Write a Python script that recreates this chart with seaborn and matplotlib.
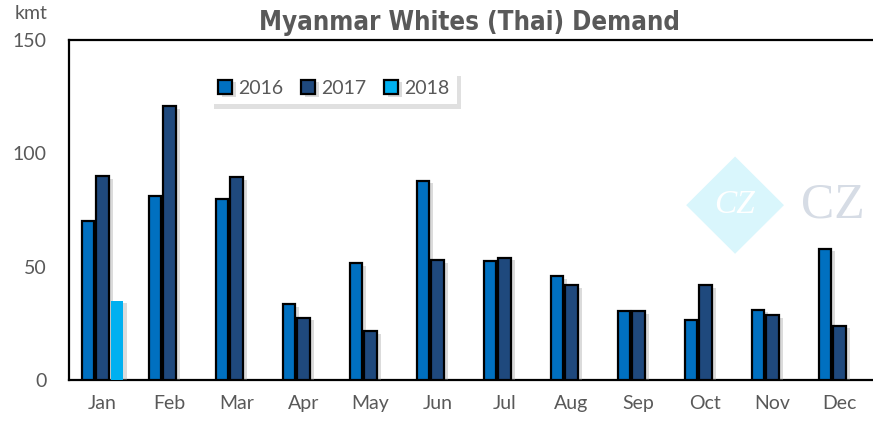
import seaborn as sns
import matplotlib.pyplot as plt
import matplotlib.patheffects as pe
from matplotlib.patches import Polygon
import pandas as pd

months = ["Jan", "Feb", "Mar", "Apr", "May", "Jun", "Jul", "Aug", "Sep", "Oct", "Nov", "Dec"]
demand_2016 = [70, 81, 80, 33.5, 51.5, 88, 52.5, 46, 30.5, 26.5, 31, 58]
demand_2017 = [90, 121, 89.5, 27.5, 21.5, 53, 54, 42, 30.5, 42, 28.5, 24]
demand_2018 = [35]
years = ["2016", "2017", "2018"]
colors = ["#0070C0", "#1F497D", "#00B0F0"]

rows = []
for m, v in zip(months, demand_2016):
    rows.append((m, "2016", v))
for m, v in zip(months, demand_2017):
    rows.append((m, "2017", v))
for m, v in zip(months, demand_2018):
    rows.append((m, "2018", v))
df = pd.DataFrame(rows, columns=["month", "year", "kmt"])

plt.rcParams["font.family"] = ["Lato", "DejaVu Sans"]
grey = "#595959"
fig = plt.figure(figsize=(8.73, 4.23), dpi=100)
ax = fig.add_axes([0.079, 0.1017, 0.921, 0.8037])

# watermark
diamond = Polygon([(0.842, 0.63), (0.898, 0.515), (0.842, 0.40), (0.786, 0.515)],
                  closed=True, transform=fig.transFigure, facecolor="#D9F6FC",
                  edgecolor="none", zorder=0)
fig.patches.append(diamond)
fig.text(0.842, 0.515, "CZ", ha="center", va="center", fontsize=24, color="white",
         family="Liberation Serif", style="italic", zorder=1)
fig.text(0.917, 0.515, "CZ", ha="left", va="center", fontsize=36,
         color="#D6DCE5", family="Liberation Serif", zorder=1)

sns.barplot(data=df, x="month", y="kmt", hue="year", order=months, hue_order=years,
            palette=colors, width=0.66, gap=0.18, edgecolor="black", linewidth=1.6,
            saturation=1, ax=ax, zorder=3)

shadow = [pe.SimplePatchShadow(offset=(3, -2), shadow_rgbFace="#9a9a9a", alpha=0.35), pe.Normal()]
for bar in ax.patches:
    bar.set_path_effects(shadow)
for bar in ax.containers[2]:
    bar.set_edgecolor("none")

ax.set_ylim(0, 150)
ax.set_xlim(-0.5, 11.5)
ax.set_yticks([0, 50, 100, 150])
ax.set_xlabel("")
ax.set_ylabel("")
ax.tick_params(length=0, labelsize=14, colors=grey)
ax.tick_params(axis="y", pad=16)
ax.tick_params(axis="x", pad=11)
for s in ["left", "top", "bottom"]:
    ax.spines[s].set_color("black")
    ax.spines[s].set_linewidth(1.6)
ax.spines["right"].set_visible(False)
ax.patch.set_alpha(0)

fig.text(0.017, 0.968, "kmt", fontsize=14, color=grey, va="center")
fig.text(0.538, 0.945, "Myanmar Whites (Thai) Demand", ha="center", va="center",
         fontsize=18.5, fontweight="bold", color=grey, family="DejaVu Sans",
         fontstretch="condensed")

leg = ax.legend(loc="upper left", bbox_to_anchor=(0.163, 0.935), ncol=3, frameon=True,
                fontsize=14, handlelength=0.75, handleheight=0.75, handletextpad=0.3,
                columnspacing=0.9, fancybox=False, borderpad=0.4,
                shadow={"color": "#cccccc", "alpha": 0.6, "ox": 3, "oy": -3})
leg.get_frame().set_linewidth(0)
for t in leg.get_texts():
    t.set_color(grey)

plt.savefig("out.png", dpi=100)
